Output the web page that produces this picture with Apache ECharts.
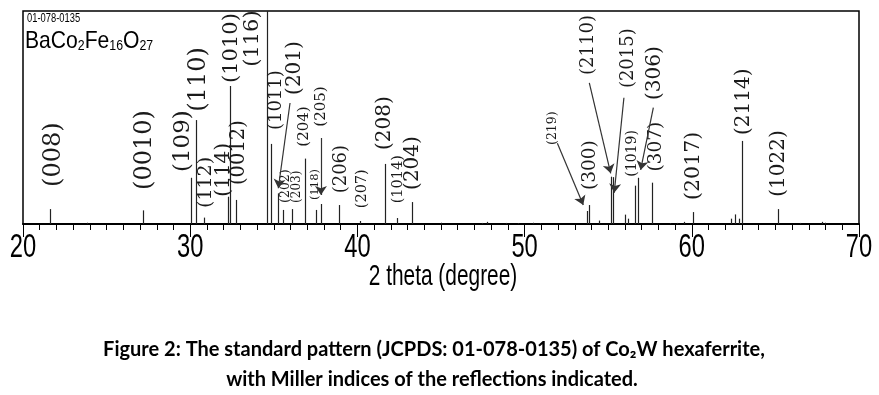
<!DOCTYPE html>
<html><head><meta charset="utf-8">
<script src="https://cdn.jsdelivr.net/npm/echarts@6/dist/echarts.min.js"></script>
<style>html,body{margin:0;padding:0;background:#fff}#c{width:879px;height:395px}</style>
</head><body><div id="c"></div>
<script>
// Peak positions (2 theta, degree) and relative intensities (%)
const peakPos = [21.63,23.83,27.18,30.07,30.33,30.80,32.24,32.40,32.74,34.57,34.81,35.25,35.57,36.10,36.87,37.54,37.80,38.92,40.18,41.65,42.39,43.27,45.00,47.45,47.77,48.90,49.60,50.50,50.90,53.71,53.85,54.45,55.15,55.27,55.99,56.17,56.59,56.77,57.60,58.70,59.10,59.55,60.05,62.33,62.57,62.81,63.02,65.17,66.50,67.80,67.95];
const peakInt = [7.0,0.6,6.4,21.7,48.8,3.0,12.8,64.8,11.3,100,37.6,14.4,6.6,7.0,30.7,6.6,9.4,8.9,1.4,28.2,2.8,10.3,0.6,0.5,1.0,0.5,0.4,0.6,0.4,6.1,8.9,1.6,22.2,22.0,4.4,2.5,18.0,21.7,19.4,0.4,0.5,1.0,5.6,2.5,4.5,2.5,39.0,7.0,0.5,1.0,0.6];

// Miller index labels: text, anchor 2theta, anchor intensity (bottom of rotated text)
const hklText = ['(008)','(0010)','(109)','(110)','(112)','(114)','(0012)','(1010)','(116)','(1011)','(201)','(202)','(203)','(204)','(205)','(118)','(206)','(207)','(208)','(1014)','(204)','(219)','(300)','(2110)','(2015)','(306)','(1019)','(307)','(2017)','(2114)','(1022)'];
const hklPos  = [21.82,27.30,29.57,30.53,30.94,31.99,32.92,32.50,33.70,35.13,36.27,35.73,36.39,36.81,37.82,37.46,39.02,40.28,41.65,42.43,43.33,51.70,53.91,53.79,56.18,57.80,56.42,57.86,60.13,63.12,65.21];
const hklInt  = [17.4,16.0,24.4,52.7,7.5,12.8,18.3,66.2,73.8,44.1,60.6,9.9,9.9,36.3,45.7,11.3,14.4,7.4,34.7,9.7,16.0,37.1,16.0,70.0,63.8,58.2,22.2,24.6,11.3,41.8,12.8];
const hklSize = [24,24,23,24,19,20,19.5,21,21,18,20,12.5,12,15,15,11.5,18,14.5,20,14.5,20,12.5,18.5,18,18,20,14,18.5,20.5,20,20];

// Arrows: [from 2theta, from I] -> [to 2theta, to I]
const arrowFromX = [35.97,37.82,51.96,53.87,55.94,57.70];
const arrowFromY = [56.8,40.4,37.9,66.3,59.3,54.6];
const arrowToX   = [35.27,37.82,53.51,55.15,55.36,56.94];
const arrowToY   = [16.8,13.6,8.9,23.8,14.7,25.4];

const xTicks = [20,30,40,50,60,70];
const xTitle = '2 theta (degree)';

const sans = "'Liberation Sans',Arial,sans-serif";
const chart = echarts.init(document.getElementById('c'), null, {renderer:'canvas'});

chart.setOption({
  backgroundColor:'#fff',
  animation:false,
  grid:{left:23,right:20,top:11,bottom:171,show:true,borderColor:'#000',borderWidth:1.5},
  xAxis:{type:'value',min:xTicks[0],max:xTicks[xTicks.length-1],interval:10,
    axisLine:{lineStyle:{color:'#000',width:2}},
    axisTick:{show:true,length:13,lineStyle:{color:'#000',width:1}},
    minorTick:{show:true,splitNumber:10,length:6,lineStyle:{color:'#000',width:1}},
    splitLine:{show:false},
    axisLabel:{show:false}},
  yAxis:{type:'value',min:0,max:100,show:false},
  series:[
    {type:'custom',name:'peaks',clip:true,
     data:peakPos.map((x,i)=>[x,peakInt[i]]),
     encode:{x:0,y:1},
     renderItem:function(params,api){
       const p0=api.coord([api.value(0),0]);
       const p1=api.coord([api.value(0),api.value(1)]);
       const x=Math.round(p0[0])+0.5;
       return {type:'line',shape:{x1:x,y1:p0[1],x2:x,y2:p1[1]},style:{stroke:'#222',lineWidth:1.2}};
     }},
    {type:'custom',name:'hkl',
     data:hklPos.map((x,i)=>[x,hklInt[i]]),
     encode:{x:0,y:1},
     renderItem:function(params,api){
       const i=params.dataIndex;
       const p=api.coord([api.value(0),api.value(1)]);
       return {type:'text',x:p[0],y:p[1],rotation:Math.PI/2,
         style:{text:hklText[i],fontSize:hklSize[i],fontFamily:"'DejaVu Serif',serif",fill:'#1a1a1a',align:'left',verticalAlign:'middle'}};
     }},
    {type:'custom',name:'tickLabels',silent:true,clip:false,
     data:xTicks.map(v=>[v,0]),
     encode:{x:0,y:1},
     renderItem:function(params,api){
       const p=api.coord([api.value(0),0]);
       const children=[{type:'text',x:p[0],y:p[1]+7,scaleX:0.72,
         style:{text:String(xTicks[params.dataIndex]),fontSize:33,fontFamily:sans,fill:'#000',align:'center',verticalAlign:'top'}}];
       if(params.dataIndex===0){
         const a=api.coord([xTicks[0],0]), b=api.coord([xTicks[xTicks.length-1],0]);
         children.push({type:'text',x:(a[0]+b[0])/2+2,y:p[1]+38,scaleX:0.72,
           style:{text:xTitle,fontSize:29,fontFamily:sans,fill:'#000',align:'center',verticalAlign:'top'}});
       }
       return {type:'group',children:children};
     }},
    {type:'lines',coordinateSystem:'cartesian2d',
     symbol:['none','arrow'],symbolSize:9,
     lineStyle:{color:'#333',width:1.2,opacity:1},
     data:arrowFromX.map((x,i)=>({coords:[[x,arrowFromY[i]],[arrowToX[i],arrowToY[i]]]}))}
  ],
  graphic:[
    {type:'text',x:27,y:12,scaleX:0.72,style:{text:'01-078-0135',font:"13px "+sans,fill:'#000'}},
    {type:'text',x:25,y:29,scaleX:0.88,style:{
      text:'{a|BaCo}{s|2}{a|Fe}{s|16}{a|O}{s|27}',
      rich:{a:{fontSize:24,fontFamily:sans,fill:'#000',verticalAlign:'bottom'},
            s:{fontSize:14,fontFamily:sans,fill:'#000',verticalAlign:'bottom'}}}},
    {type:'text',x:434,y:350,style:{text:'Figure 2: The standard pattern (JCPDS: 01-078-0135) of Co\u2082W hexaferrite,',
      font:"bold 20px Lato, 'Open Sans', sans-serif",fill:'#000',align:'center',verticalAlign:'middle'}},
    {type:'text',x:432,y:380,style:{text:'with Miller indices of the reflections indicated.',
      font:"bold 20px Lato, 'Open Sans', sans-serif",fill:'#000',align:'center',verticalAlign:'middle'}}
  ]
});
</script>
</body></html>
